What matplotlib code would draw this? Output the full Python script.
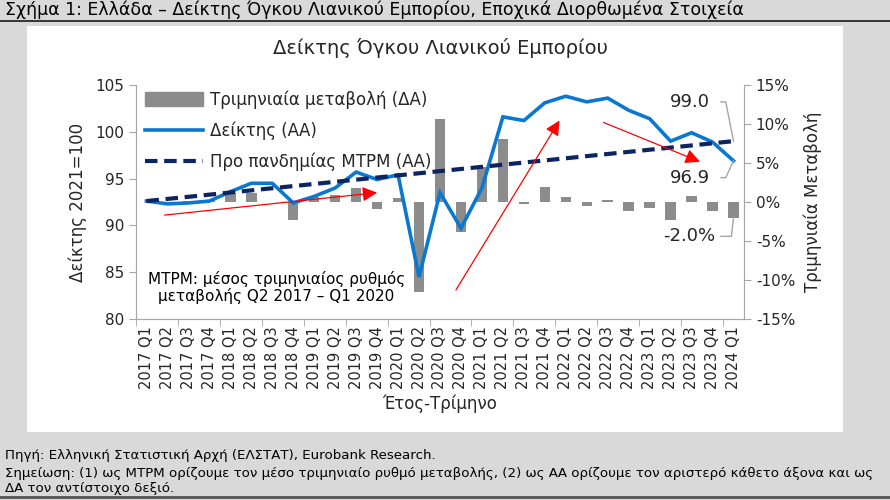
import matplotlib.pyplot as plt
import numpy as np
from matplotlib.patches import Rectangle, Patch
from matplotlib.lines import Line2D
from matplotlib.ticker import FuncFormatter

plt.rcParams['font.family'] = ['DejaVu Sans']
plt.rcParams['axes.unicode_minus'] = False

# Δεδομένα
quarters = ['2017 Q1', '2017 Q2', '2017 Q3', '2017 Q4',
            '2018 Q1', '2018 Q2', '2018 Q3', '2018 Q4',
            '2019 Q1', '2019 Q2', '2019 Q3', '2019 Q4',
            '2020 Q1', '2020 Q2', '2020 Q3', '2020 Q4',
            '2021 Q1', '2021 Q2', '2021 Q3', '2021 Q4',
            '2022 Q1', '2022 Q2', '2022 Q3', '2022 Q4',
            '2023 Q1', '2023 Q2', '2023 Q3', '2023 Q4',
            '2024 Q1']
index_vals = [92.6, 92.3, 92.4, 92.6, 93.6, 94.5, 94.5, 92.4,
              93.1, 94.0, 95.7, 94.9, 95.4, 84.5, 93.5, 89.7,
              94.0, 101.6, 101.2, 103.1, 103.8, 103.2, 103.6, 102.3,
              101.4, 99.0, 99.9, 98.9, 96.9]
qoq_change = [np.nan, -0.3, 0.1, 0.2, 1.1, 1.1, 0.0, -2.3,
              0.7, 0.9, 1.8, -0.9, 0.5, -11.5, 10.7, -3.8,
              4.5, 8.1, -0.3, 1.9, 0.6, -0.5, 0.3, -1.2,
              -0.8, -2.3, 0.8, -1.1, -2.0]
trend_quarters = ['2017 Q1', '2024 Q1']
trend_vals = [92.6, 99.0]

blue = '#0a78d0'
navy = '#0c2461'
bar_grey = '#8c8c8c'
axis_grey = '#a6a6a6'
txt = '#262626'

x = np.arange(len(quarters))
trend_x = [quarters.index(q) for q in trend_quarters]

fig = plt.figure(figsize=(8.9, 5), dpi=100)
fig.patch.set_facecolor('#d9d9d9')
# λευκό πλαίσιο γραφήματος
fig.patches.append(Rectangle((27 / 890, 1 - 432 / 500), (843 - 27) / 890, (432 - 26) / 500,
                             transform=fig.transFigure, facecolor='white', edgecolor='none', zorder=-5))
fig.add_artist(Line2D([0, 1], [1 - 21 / 500] * 2, color='#1a1a1a', lw=1.2))
fig.add_artist(Line2D([0, 1], [1 - 497 / 500] * 2, color='#555555', lw=2))

ax = fig.add_axes([136 / 890, 1 - 319 / 500, (744 - 136) / 890, (319 - 85) / 500])
ax2 = ax.twinx()

bars = ax2.bar(x, qoq_change, width=0.5, color=bar_grey, zorder=1)
ax.set_zorder(ax2.get_zorder() + 1)
ax.patch.set_visible(False)
ax2.patch.set_visible(False)

ax.plot(x, index_vals, color=blue, lw=2.6, solid_joinstyle='miter')
ax.plot(trend_x, trend_vals, color=navy, lw=3, ls=(0, (3, 1.6)))

ax.set_xlim(-0.5, len(quarters) - 0.5)
ax.set_ylim(80, 105)
ax2.set_ylim(-15, 15)
ax.set_yticks(np.arange(80, 106, 5))
ax2.set_yticks(np.arange(-15, 16, 5))
ax2.yaxis.set_major_formatter(FuncFormatter(lambda v, p: f'{v:.0f}%'))

ax.set_xticks(x)
ax.set_xticklabels(quarters, rotation=90, fontsize=10.5, color=txt)
ax.set_xticks(np.arange(-0.5, len(quarters), 2), minor=True)
ax.tick_params(axis='x', which='major', length=0, pad=5)
ax.tick_params(axis='x', which='minor', length=5, color=axis_grey)
ax.tick_params(axis='y', length=5, color=axis_grey, labelsize=11, labelcolor=txt)
ax2.tick_params(axis='y', length=5, color=axis_grey, labelsize=11, labelcolor=txt)

for a in (ax, ax2):
    a.spines['top'].set_visible(False)
    for s in ('left', 'right', 'bottom'):
        a.spines[s].set_color(axis_grey)

ax.set_ylabel('Δείκτης 2021=100', fontsize=12, color=txt, labelpad=6)
ax2.set_ylabel('Τριμηνιαία Μεταβολή', fontsize=12, color=txt, labelpad=6)
ax.set_xlabel('Έτος-Τρίμηνο', fontsize=12, color=txt, labelpad=4)
ax.set_title('Δείκτης Όγκου Λιανικού Εμπορίου', fontsize=14, color=txt, pad=22)

handles = [Patch(color=bar_grey),
           Line2D([], [], color=blue, lw=2.6),
           Line2D([], [], color=navy, lw=3, ls=(0, (3, 1.6)))]
labels = ['Τριμηνιαία μεταβολή (ΔΑ)', 'Δείκτης (ΑΑ)', 'Προ πανδημίας ΜΤΡΜ (ΑΑ)']
leg = ax.legend(handles, labels, loc='upper left', bbox_to_anchor=(-0.01, 1.04), frameon=False,
                fontsize=12, handlelength=3.5, handleheight=0.9, labelspacing=0.75, handletextpad=0.4)
for t in leg.get_texts():
    t.set_color(txt)

ax.text(6.2, 83.4, 'ΜΤΡΜ: μέσος τριμηνιαίος ρυθμός\nμεταβολής Q2 2017 – Q1 2020', ha='center', va='center',
        fontsize=11, color='black', linespacing=1.1)

# κόκκινα βέλη
arrow = dict(arrowstyle='-|>', color='red', lw=0.9, mutation_scale=22, shrinkA=0, shrinkB=0)
ax.annotate('', xy=(11.0, 93.5), xytext=(0.86, 91.1), arrowprops=arrow)
ax.annotate('', xy=(19.7, 101.2), xytext=(14.76, 83.1), arrowprops=arrow)
ax.annotate('', xy=(26.4, 96.8), xytext=(21.8, 101.0), arrowprops=arrow)

# ετικέτες τελευταίων τιμών
last = len(quarters) - 1
ax.text(25.9, 103.2, f'{trend_vals[-1]:.1f}', ha='center', va='center', fontsize=13, color=txt)
ax.plot([27.4, 27.63, last], [103.2, 103.2, trend_vals[-1]], color=axis_grey, lw=1)
ax.text(25.9, 95.1, f'{index_vals[-1]:.1f}', ha='center', va='center', fontsize=13, color=txt)
ax.plot([27.4, 27.63, last], [95.1, 95.1, index_vals[-1]], color=axis_grey, lw=1)
ax2.text(25.9, -4.4, f'{qoq_change[-1]:.1f}%', ha='center', va='center', fontsize=13, color=txt)
ax2.plot([27.4, 27.9, last], [-4.4, -4.4, qoq_change[-1]], color=axis_grey, lw=1)

fig.text(5 / 890, 1 - 10 / 500, 'Σχήμα 1: Ελλάδα – Δείκτης Όγκου Λιανικού Εμπορίου, Εποχικά Διορθωμένα Στοιχεία',
         ha='left', va='center', fontsize=12.5, color='black')
fig.text(5 / 890, 1 - 456 / 500, 'Πηγή: Ελληνική Στατιστική Αρχή (ΕΛΣΤΑΤ), Eurobank Research.',
         ha='left', va='center', fontsize=9.6, color='black')
fig.text(5 / 890, 1 - 481 / 500,
         'Σημείωση: (1) ως ΜΤΡΜ ορίζουμε τον μέσο τριμηνιαίο ρυθμό μεταβολής, (2) ως ΑΑ ορίζουμε τον αριστερό κάθετο άξονα και ως\nΔΑ τον αντίστοιχο δεξιό.',
         ha='left', va='center', fontsize=9.6, color='black', linespacing=1.2)

fig.savefig('out.png', dpi=100, facecolor=fig.get_facecolor())
